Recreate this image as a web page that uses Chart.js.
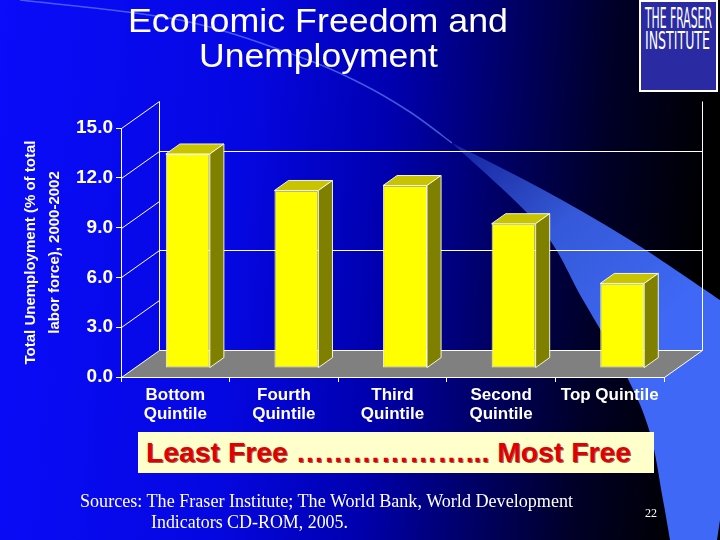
<!DOCTYPE html>
<html>
<head>
<meta charset="utf-8">
<script src="https://cdn.jsdelivr.net/npm/chart.js@4.4.1/dist/chart.umd.min.js"></script>
<style>
  html, body { margin: 0; padding: 0; background: #000; }
  #wrap { position: relative; width: 720px; height: 540px; overflow: hidden; }
  #c { position: absolute; left: 0; top: 0; }
  .txt { position: absolute; white-space: nowrap; transform-origin: 0 0; }
  .title { color: #fff; font: 33px/33px "Liberation Sans", Arial, sans-serif; }
  #logo { position: absolute; left: 639px; top: 0; width: 75px; height: 88px; border: 2px solid #fff; background: #2a2aa2; }
  .logo { color: #fff; font-family: "Liberation Sans Narrow", "DejaVu Sans Condensed", sans-serif; }
  #band { position: absolute; left: 138px; top: 432px; width: 516px; height: 41px; background: #ffffcc; }
  .band { color: #e00000; font: bold 28px/28px "Liberation Sans", Arial, sans-serif; text-shadow: 1px 1px 0 rgba(110, 20, 20, 0.7); }
  .src { color: #fff; font: 18px/18px "Liberation Serif", "Times New Roman", serif; }
</style>
</head>
<body>
<div id="wrap">
  <canvas id="c" width="720" height="540"></canvas>
  <div class="txt title" style="left:128px; top:4px" data-fit="380">Economic Freedom and</div>
  <div class="txt title" style="left:199px; top:39px" data-fit="239">Unemployment</div>
  <div id="logo"></div>
  <div class="txt logo" style="left:645px; top:5px; font-size:28px; line-height:28px" data-fit="67">THE FRASER</div>
  <div class="txt logo" style="left:645px; top:28px; font-size:25.6px; line-height:25.6px" data-fit="65">INSTITUTE</div>
  <div id="band"></div>
  <div class="txt band" style="left:146px; top:439px" data-fit="485">Least Free ………………... Most Free</div>
  <div class="txt src" style="left:80px; top:492px" data-fit="493">Sources: The Fraser Institute; The World Bank, World Development</div>
  <div class="txt src" style="left:151px; top:513px" data-fit="197">Indicators CD-ROM, 2005.</div>
  <div class="txt src" style="left:645px; top:507px; font-size:12px; line-height:12px">22</div>
</div>
<script>
// data
const categories = [['Bottom', 'Quintile'], ['Fourth', 'Quintile'], ['Third', 'Quintile'], ['Second', 'Quintile'], 'Top Quintile'];
const unemployment = [12.9, 10.7, 11.0, 8.7, 5.1];
const yTicks = [0, 3, 6, 9, 12, 15];
const backWallLines = [0, 6, 12];

// 3d look
const depth = { dx: 38, dy: -27 };
const barFront = 0.33;
const barBack = 0.70;

function spline(ctx, pts, move) {
    if (move !== false) ctx.moveTo(pts[0][0], pts[0][1]);
    for (let i = 0; i < pts.length - 1; i++) {
        const p0 = pts[i - 1] || pts[i], p1 = pts[i], p2 = pts[i + 1], p3 = pts[i + 2] || p2;
        ctx.bezierCurveTo(
            p1[0] + (p2[0] - p0[0]) / 6, p1[1] + (p2[1] - p0[1]) / 6,
            p2[0] - (p3[0] - p1[0]) / 6, p2[1] - (p3[1] - p1[1]) / 6,
            p2[0], p2[1]);
    }
}

const slideBackground = {
    id: 'slideBackground',
    beforeDraw(chart) {
        const ctx = chart.ctx;
        const W = chart.width, H = chart.height;
        ctx.save();
        const g = ctx.createLinearGradient(0, 0, W, 60);
        g.addColorStop(0, '#0a0cfa');
        g.addColorStop(0.35, '#0507e2');
        g.addColorStop(0.55, '#0000b0');
        g.addColorStop(0.7, '#00006a');
        g.addColorStop(0.85, '#000028');
        g.addColorStop(1, '#000000');
        ctx.fillStyle = g;
        ctx.fillRect(0, 0, W, H);

        // swoosh
        const lower = [[452, 143], [540, 227], [583, 300], [627, 377], [650, 433], [663, 500], [670, 540]];
        const upper = [[720, 300], [630, 240], [540, 188], [452, 143]];
        const sg = ctx.createLinearGradient(450, 140, 650, 330);
        sg.addColorStop(0, 'rgba(62, 104, 245, 0.3)');
        sg.addColorStop(0.5, 'rgba(62, 104, 245, 0.85)');
        sg.addColorStop(1, 'rgba(62, 104, 245, 1)');
        ctx.fillStyle = sg;
        ctx.beginPath();
        spline(ctx, lower);
        ctx.lineTo(717, 540);
        ctx.lineTo(720, 520);
        ctx.lineTo(720, 300);
        spline(ctx, upper, false);
        ctx.closePath();
        ctx.fill();

        // thin arc through the title
        ctx.strokeStyle = 'rgba(110, 145, 255, 0.6)';
        ctx.lineWidth = 1.5;
        ctx.beginPath();
        spline(ctx, [[20, 0], [180, 20], [300, 57], [360, 83], [410, 112], [452, 143]]);
        ctx.stroke();
        ctx.restore();
    }
};

const box3d = {
    id: 'box3d',
    beforeDraw(chart) {
        const { ctx, chartArea: a, scales: { y } } = chart;
        const dx = depth.dx, dy = depth.dy;
        const px = v => Math.round(y.getPixelForValue(v)) + 0.5;
        const y0 = px(0);
        const L = Math.round(a.left) + 0.5, R = Math.round(a.right) + 0.5;
        ctx.save();
        ctx.fillStyle = '#808080';
        ctx.beginPath();
        ctx.moveTo(L, y0);
        ctx.lineTo(R, y0);
        ctx.lineTo(R + dx, y0 + dy);
        ctx.lineTo(L + dx, y0 + dy);
        ctx.closePath();
        ctx.fill();

        ctx.strokeStyle = '#ffffff';
        ctx.lineWidth = 1;
        ctx.beginPath();
        yTicks.forEach(v => {
            ctx.moveTo(L, px(v));
            ctx.lineTo(L + dx, px(v) + dy);
        });
        backWallLines.forEach(v => {
            ctx.moveTo(L + dx, px(v) + dy);
            ctx.lineTo(R + dx, px(v) + dy);
        });
        const top = px(15) + dy;
        ctx.moveTo(L + dx, top);
        ctx.lineTo(L + dx, y0 + dy);
        ctx.moveTo(R + dx, top);
        ctx.lineTo(R + dx, y0 + dy);
        ctx.moveTo(R, y0);
        ctx.lineTo(R + dx, y0 + dy);
        ctx.stroke();
        ctx.restore();
    },
    beforeDatasetsDraw(chart) {
        chart.ctx.save();
        chart.ctx.translate(depth.dx * barFront, depth.dy * barFront);
    },
    afterDatasetsDraw(chart) {
        const ctx = chart.ctx;
        const ddx = depth.dx * (barBack - barFront);
        const ddy = depth.dy * (barBack - barFront);
        chart.getDatasetMeta(0).data.forEach(bar => {
            const { x, y, base, width } = bar.getProps(['x', 'y', 'base', 'width'], true);
            const l = x - width / 2, r = x + width / 2;
            ctx.strokeStyle = 'rgba(255, 255, 235, 0.9)';
            ctx.lineWidth = 1;
            ctx.fillStyle = '#c8c400';
            ctx.beginPath();
            ctx.moveTo(l, y);
            ctx.lineTo(r, y);
            ctx.lineTo(r + ddx, y + ddy);
            ctx.lineTo(l + ddx, y + ddy);
            ctx.closePath();
            ctx.fill();
            ctx.stroke();
            ctx.fillStyle = '#808000';
            ctx.beginPath();
            ctx.moveTo(r, y);
            ctx.lineTo(r + ddx, y + ddy);
            ctx.lineTo(r + ddx, base + ddy);
            ctx.lineTo(r, base);
            ctx.closePath();
            ctx.fill();
            ctx.stroke();
        });
        ctx.restore();
    }
};

const font = "'Liberation Sans', Arial, sans-serif";

new Chart(document.getElementById('c'), {
    type: 'bar',
    data: {
        labels: categories,
        datasets: [{
            data: unemployment,
            backgroundColor: '#ffff00',
            borderColor: 'rgba(255, 255, 235, 0.9)',
            borderWidth: 1,
            borderSkipped: false,
            barPercentage: 0.405,
            categoryPercentage: 1,
            clip: false
        }]
    },
    options: {
        responsive: false,
        devicePixelRatio: 1,
        animation: false,
        layout: { padding: { top: 128, left: 0, right: 56, bottom: 103 } },
        plugins: {
            legend: { display: false },
            tooltip: { enabled: false }
        },
        scales: {
            x: {
                offset: true,
                afterFit: s => { s.height = 60; },
                grid: { offset: true, drawOnChartArea: false, drawTicks: true, tickLength: 5, color: '#ffffff' },
                border: { display: true, color: '#ffffff' },
                ticks: {
                    color: '#ffffff', autoSkip: false, maxRotation: 0, minRotation: 0, padding: 4,
                    font: { family: font, size: 17, weight: 'bold', lineHeight: 1.1 }
                }
            },
            y: {
                min: 0,
                max: 15,
                afterFit: s => { s.width = 121; },
                afterBuildTicks: s => { s.ticks = yTicks.map(v => ({ value: v })); },
                grid: { drawOnChartArea: false, drawTicks: true, tickLength: 5, color: '#ffffff' },
                border: { display: true, color: '#ffffff' },
                ticks: {
                    color: '#ffffff', padding: 3,
                    callback: v => v.toFixed(1),
                    font: { family: font, size: 19, weight: 'bold' }
                },
                title: {
                    display: true,
                    text: ['Total Unemployment (% of total', 'labor force), 2000-2002'],
                    color: '#ffffff',
                    padding: { top: 19, bottom: 0 },
                    font: { family: font, size: 15, weight: 'bold', lineHeight: 1.6 }
                }
            }
        }
    },
    plugins: [slideBackground, box3d]
});

function fitText() {
    document.querySelectorAll('[data-fit]').forEach(el => {
        el.style.transform = 'none';
        const w = el.getBoundingClientRect().width;
        el.style.transform = 'scaleX(' + (el.dataset.fit / w) + ')';
    });
}
fitText();
document.fonts.ready.then(fitText);
</script>
</body>
</html>
